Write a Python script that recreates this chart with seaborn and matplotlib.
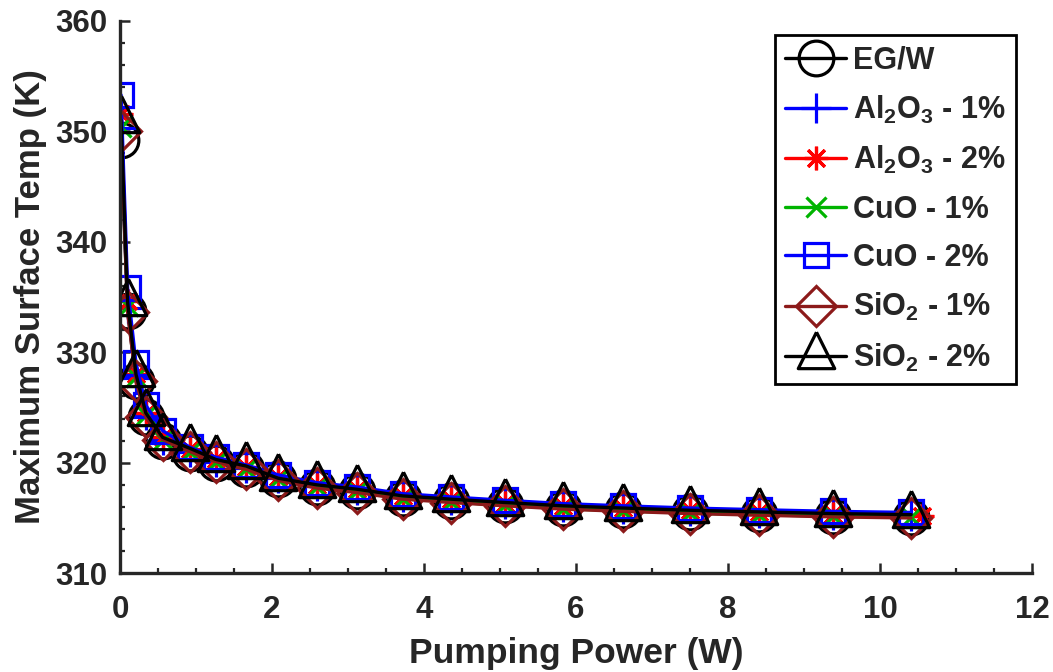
import matplotlib
matplotlib.use('Agg')
import matplotlib.pyplot as plt
import numpy as np
import seaborn as sns

# pumping power (W)
power = [0.013, 0.10, 0.21, 0.34, 0.56, 0.92, 1.26, 1.66, 2.08, 2.59, 3.12,
         3.72, 4.36, 5.07, 5.83, 6.62, 7.50, 8.41, 9.38, 10.41]
power_al2 = power[:-1] + [10.55]

# maximum surface temperature (K)
egw = [349.2, 333.7, 327.4, 324.1, 322.0, 320.9, 320.0, 319.4, 318.5, 317.8, 317.4,
       316.8, 316.5, 316.2, 315.9, 315.7, 315.5, 315.35, 315.2, 315.1]
al2o3_1 = [350.3, 334.0, 327.7, 324.3, 322.1, 321.0, 320.1, 319.5, 318.6, 317.9, 317.5,
           316.9, 316.6, 316.3, 316.0, 315.8, 315.6, 315.45, 315.3, 315.2]
al2o3_2 = [351.6, 334.6, 328.0, 324.5, 322.3, 321.2, 320.3, 319.6, 318.7, 318.0, 317.6,
           317.0, 316.7, 316.4, 316.1, 315.9, 315.7, 315.55, 315.4, 315.2]
cuo_1 = [350.4, 334.2, 327.8, 324.3, 322.1, 321.0, 320.1, 319.4, 318.5, 317.8, 317.4,
         316.75, 316.45, 316.15, 315.85, 315.65, 315.45, 315.3, 315.15, 315.05]
cuo_2 = [353.3, 335.8, 329.0, 325.2, 322.9, 321.4, 320.5, 319.8, 318.9, 318.2, 317.8,
         317.2, 316.9, 316.6, 316.3, 316.1, 315.9, 315.75, 315.6, 315.5]
sio2_1 = [350.0, 333.6, 327.4, 324.1, 322.1, 321.0, 320.1, 319.4, 318.4, 317.7, 317.3,
          316.7, 316.4, 316.1, 315.8, 315.6, 315.4, 315.25, 315.1, 315.0]
sio2_2 = [351.0, 334.5, 328.0, 324.5, 322.3, 321.3, 320.3, 319.7, 318.6, 318.0, 317.6,
          317.0, 316.7, 316.4, 316.1, 315.9, 315.7, 315.55, 315.4, 315.3]

labels = ['EG/W', r'Al$_\mathbf{2}$O$_\mathbf{3}$ - 1%', r'Al$_\mathbf{2}$O$_\mathbf{3}$ - 2%',
          'CuO - 1%', 'CuO - 2%', r'SiO$_\mathbf{2}$ - 1%', r'SiO$_\mathbf{2}$ - 2%']

sns.set_style('ticks')
plt.rcParams['font.family'] = ['Liberation Sans', 'DejaVu Sans']
plt.rcParams['font.weight'] = 'bold'
plt.rcParams['mathtext.fontset'] = 'custom'
plt.rcParams['mathtext.rm'] = 'Liberation Sans:bold'
plt.rcParams['mathtext.bf'] = 'Liberation Sans:bold'
plt.rcParams['mathtext.default'] = 'bf'

# triangle centred on its centroid like matlab
tri = [(0, 1.333), (-1, -0.667), (1, -0.667), (0, 1.333)]

series = [
    (power, egw, 'black', 'o', 25),
    (power, al2o3_1, '#0000FF', '+', 22),
    (power_al2, al2o3_2, '#FF0000', (8, 2, 0), 17),
    (power, cuo_1, '#00B400', 'x', 15),
    (power, cuo_2, '#0000FF', 's', 17),
    (power, sio2_1, '#8C1A1A', 'D', 20),
    (power, sio2_2, 'black', tri, 35),
]

fig = plt.figure(figsize=(10.53, 6.72), dpi=100)
ax = fig.add_axes([0.114, 0.147, 0.866, 0.822])

for (xs, ys, col, mk, ms), lab in zip(series, labels):
    sns.lineplot(x=xs, y=ys, ax=ax, color=col, lw=2.4, marker=mk, markersize=ms,
                 markerfacecolor='none', mec=col, mew=2.3, label=lab, sort=False)

ax.set_xlim(0, 12)
ax.set_ylim(310, 360)
ax.set_xticks(np.arange(0, 13, 2))
ax.set_yticks(np.arange(310, 361, 10))
ax.set_xticks(np.arange(0, 12.01, 0.5), minor=True)
ax.set_yticks(np.arange(310, 360.1, 2), minor=True)

sns.despine(ax=ax)
for s in ['left', 'bottom']:
    ax.spines[s].set_linewidth(2.4)
    ax.spines[s].set_color('#262626')

ax.tick_params(which='major', direction='in', length=7, width=1.8, colors='#262626',
               labelsize=22.5)
ax.tick_params(which='minor', direction='in', length=3.5, width=1.6, colors='#262626')
ax.tick_params(axis='x', which='major', pad=16)
ax.tick_params(axis='y', which='major', pad=9)
for t in ax.get_xticklabels() + ax.get_yticklabels():
    t.set_fontweight('bold')

ax.set_xlabel('Pumping Power (W)', fontsize=25.5, fontweight='bold', color='#262626', labelpad=8)
ax.set_ylabel('Maximum Surface Temp (K)', fontsize=25, fontweight='bold', color='#262626',
              labelpad=6)

handles, labs = ax.get_legend_handles_labels()
leg = ax.legend(handles, labs, loc='upper right', bbox_to_anchor=(0.9825, 0.975),
                borderaxespad=0, fancybox=False, framealpha=1, edgecolor='black',
                prop={'weight': 'bold', 'size': 22}, handlelength=2.0,
                handletextpad=0.2, labelspacing=0.6, borderpad=0.35, numpoints=1)
leg.get_frame().set_linewidth(2.0)

fig.savefig('out.png', dpi=100)
